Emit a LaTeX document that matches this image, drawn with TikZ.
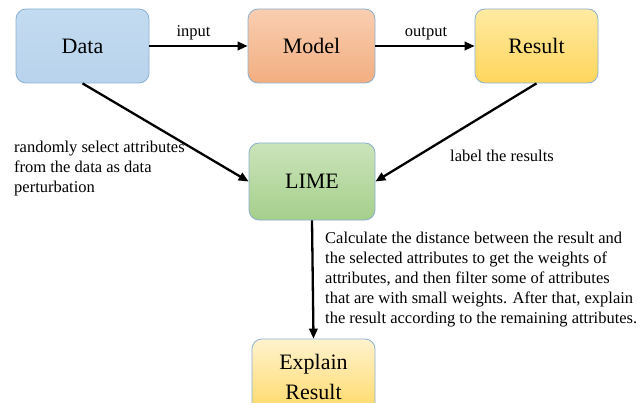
\documentclass[tikz,border=0pt]{standalone}
\usepackage{fontspec}
\setmainfont{LiberationSerif}[Extension=.ttf, UprightFont=*-Regular, BoldFont=*-Bold, ItalicFont=*-Italic]
\usetikzlibrary{arrows.meta}
\definecolor{edgeblue}{HTML}{8AB0D0}
\definecolor{dataTop}{RGB}{195,219,240}
\definecolor{dataBot}{RGB}{184,211,236}
\definecolor{modelTop}{RGB}{249,206,177}
\definecolor{modelBot}{RGB}{242,174,128}
\definecolor{resTop}{RGB}{255,234,162}
\definecolor{resBot}{RGB}{255,214,92}
\definecolor{limeTop}{RGB}{202,228,187}
\definecolor{limeBot}{RGB}{166,207,139}
\definecolor{explTop}{RGB}{255,243,206}
\definecolor{explBot}{RGB}{255,216,100}
\begin{document}
\begin{tikzpicture}[x=1pt,y=-1pt,
  box/.style={draw=edgeblue, line width=0.8pt, rounded corners=10pt,
    font=\fontsize{22}{30}\selectfont, align=center, inner sep=0pt},
  link/.style={line width=2.3pt, -{Triangle[length=10pt,width=8.5pt]}},
  lab/.style={font=\fontsize{16.5}{20}\selectfont, inner sep=0pt, align=left}]
\useasboundingbox (0,0) rectangle (644,403);
\begin{scope}
\clip (0,0) rectangle (644,403);
\node[box, top color=dataTop, bottom color=dataBot,
  minimum width=133pt, minimum height=74pt] (data) at (82.5,46) {Data};
\node[box, top color=modelTop, bottom color=modelBot,
  minimum width=127pt, minimum height=74pt] (model) at (311.5,46) {Model};
\node[box, top color=resTop, bottom color=resBot,
  minimum width=123pt, minimum height=74pt] (result) at (536.5,46) {Result};
\node[box, top color=limeTop, bottom color=limeBot,
  minimum width=126pt, minimum height=77pt] (lime) at (312,181.5) {LIME};
\node[box, top color=explTop, bottom color=explBot,
  minimum width=123pt, minimum height=76pt] (explain) at (313.5,377) {Explain\\Result};

\draw[link] (data) -- (model) node[lab, pos=0.45, above=5pt] (inlab) {input};
\draw[link] (model) -- (result) node[lab, pos=0.51, above=5pt] (outlab) {output};
\draw[link] (data.south) -- (lime.west);
\draw[link] (result.south) -- (lime.east);
\draw[link] (lime.south) -- (explain.north);

\node[lab, anchor=west] (pert) at (14,168.5) {randomly select attributes\\from the data as data\\perturbation};
\node[lab, anchor=west] (labres) at (450,155.5) {label the results};
\node[lab, anchor=west] (calc) at (325,280) {Calculate the distance between the result and\\the selected attributes to get the weights of\\attributes, and then filter some of attributes\\that are with small weights. After that, explain\\the result according to the remaining attributes.};
\end{scope}
\end{tikzpicture}
\end{document}
